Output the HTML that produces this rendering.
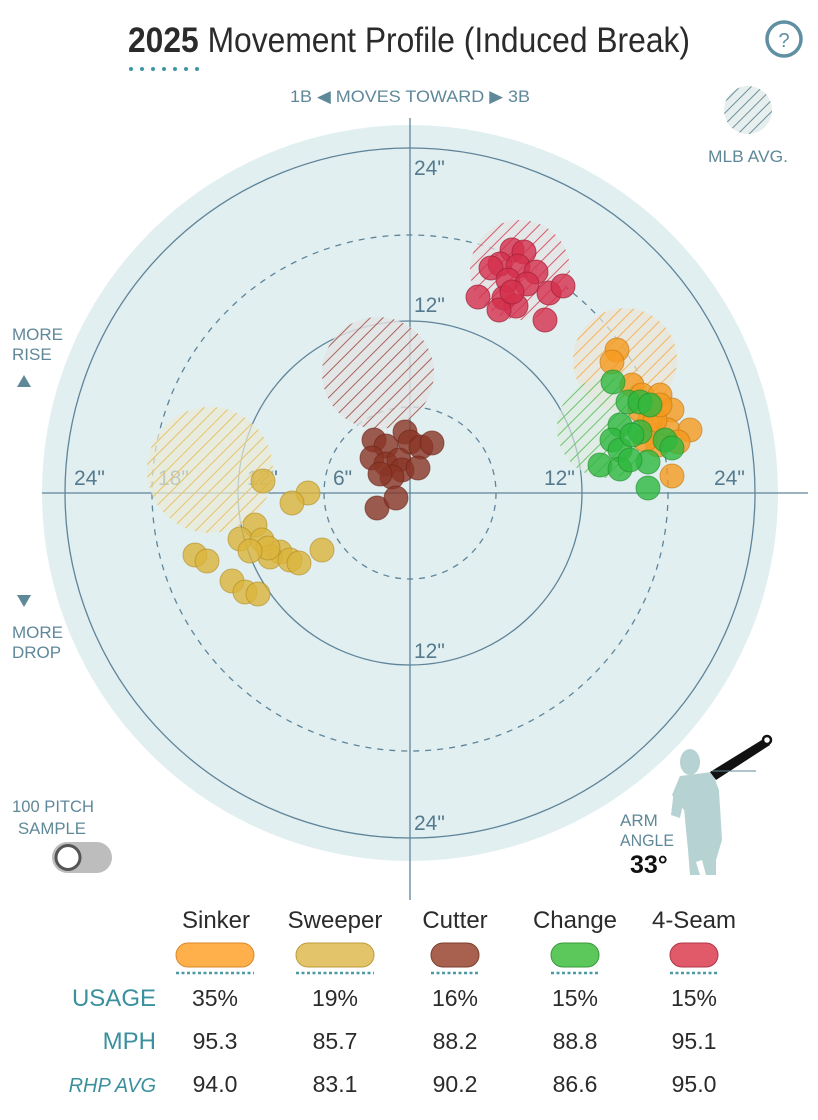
<!DOCTYPE html>
<html><head><meta charset="utf-8"><style>
body{margin:0;background:#fff;}
svg{display:block;font-family:"Liberation Sans Narrow","Liberation Sans",sans-serif;}
</style></head><body>
<svg width="818" height="1120" viewBox="0 0 818 1120" xmlns="http://www.w3.org/2000/svg">
<defs>
<pattern id="hr" width="9" height="9" patternUnits="userSpaceOnUse" patternTransform="rotate(45)"><rect width="9" height="9" fill="#e4e4e4" opacity="0.7"/><line x1="0" y1="0" x2="0" y2="9" stroke="#d85a6a" stroke-width="2"/></pattern>
<pattern id="hb" width="9" height="9" patternUnits="userSpaceOnUse" patternTransform="rotate(45)"><rect width="9" height="9" fill="#e4e4e4" opacity="0.8"/><line x1="0" y1="0" x2="0" y2="9" stroke="#a8645a" stroke-width="2"/></pattern>
<pattern id="hy" width="9" height="9" patternUnits="userSpaceOnUse" patternTransform="rotate(45)"><rect width="9" height="9" fill="#ebebd8" opacity="0.7"/><line x1="0" y1="0" x2="0" y2="9" stroke="#e6c36a" stroke-width="2"/></pattern>
<pattern id="ho" width="9" height="9" patternUnits="userSpaceOnUse" patternTransform="rotate(45)"><rect width="9" height="9" fill="#ebe6d8" opacity="0.7"/><line x1="0" y1="0" x2="0" y2="9" stroke="#f5b45a" stroke-width="2"/></pattern>
<pattern id="hg" width="9" height="9" patternUnits="userSpaceOnUse" patternTransform="rotate(45)"><rect width="9" height="9" fill="#dfeadf" opacity="0.6"/><line x1="0" y1="0" x2="0" y2="9" stroke="#6cc66c" stroke-width="2"/></pattern>
<pattern id="hm" width="8" height="8" patternUnits="userSpaceOnUse" patternTransform="rotate(45)"><rect width="8" height="8" fill="#e6eeee"/><line x1="0" y1="0" x2="0" y2="8" stroke="#6d909a" stroke-width="2"/></pattern>
</defs>
<!-- title -->
<text x="128" y="52" font-size="35" fill="#2b2b2b" textLength="562" lengthAdjust="spacingAndGlyphs"><tspan font-weight="bold">2025</tspan> Movement Profile (Induced Break)</text>
<g fill="#3d96a3"><circle cx="131" cy="69" r="2"/><circle cx="142" cy="69" r="2"/><circle cx="153" cy="69" r="2"/><circle cx="164" cy="69" r="2"/><circle cx="175" cy="69" r="2"/><circle cx="186" cy="69" r="2"/><circle cx="197" cy="69" r="2"/></g>
<circle cx="784" cy="39" r="17" fill="none" stroke="#5f8fa3" stroke-width="3.5"/>
<text x="784" y="47" font-size="20" fill="#5f8fa3" text-anchor="middle">?</text>
<text x="290" y="102" font-size="17" fill="#5f8899" textLength="240" lengthAdjust="spacingAndGlyphs">1B ◀  MOVES TOWARD  ▶ 3B</text>
<circle cx="748" cy="110" r="24" fill="url(#hm)"/>
<text x="708" y="162" font-size="17" fill="#5f8899" textLength="80" lengthAdjust="spacingAndGlyphs">MLB AVG.</text>
<!-- field -->
<circle cx="410" cy="493" r="368" fill="#e1eff1"/>
<g fill="none" stroke="#5f8499" stroke-width="1.3">
<circle cx="410" cy="493" r="345"/><circle cx="410" cy="493" r="172"/>
<circle cx="410" cy="493" r="258" stroke-dasharray="6,6"/><circle cx="410" cy="493" r="86" stroke-dasharray="6,6"/>
<line x1="410" y1="118" x2="410" y2="900"/><line x1="42" y1="493" x2="808" y2="493"/>
</g>
<g font-size="21" fill="#557a8d">
<text x="414" y="175">24"</text><text x="414" y="312">12"</text><text x="414" y="658">12"</text><text x="414" y="830">24"</text>
<text x="74" y="485">24"</text><text x="158" y="485">18"</text><text x="247" y="485">12"</text><text x="333" y="485">6"</text><text x="544" y="485">12"</text><text x="714" y="485">24"</text>
</g>
<g font-size="17" fill="#5f8899">
<text x="12" y="340">MORE</text><text x="12" y="360">RISE</text>
<text x="12" y="638">MORE</text><text x="12" y="658">DROP</text>
<text x="12" y="812" textLength="82" lengthAdjust="spacingAndGlyphs">100 PITCH</text><text x="18" y="834" textLength="68" lengthAdjust="spacingAndGlyphs">SAMPLE</text>
<text x="620" y="826">ARM</text><text x="620" y="846" textLength="54" lengthAdjust="spacingAndGlyphs">ANGLE</text>
</g>
<polygon points="24,375 17,387 31,387" fill="#5f8899"/>
<polygon points="17,595 31,595 24,607" fill="#5f8899"/>
<rect x="52" y="842" width="60" height="31" rx="15.5" fill="#bdbdbd"/>
<circle cx="68" cy="857.5" r="12" fill="#fff" stroke="#555" stroke-width="3"/>
<text x="630" y="873" font-size="25" font-weight="bold" fill="#111">33°</text>
<!-- pitcher -->
<g fill="#b7d2d2">
<ellipse cx="690" cy="762" rx="10" ry="13"/>
<path d="M680,776 L712,772 L719,790 L720,808 L700,812 L684,810 L672,795 Z"/>
<path d="M674,790 L671,815 L680,818 L684,800 Z"/>
<path d="M684,808 L720,806 L722,840 L716,860 L716,875 L706,875 L702,860 L696,862 L700,875 L690,875 L688,850 L686,830 Z"/>
</g>
<polygon points="710,772 765,738 770,745 716,780" fill="#111"/>
<circle cx="767" cy="740" r="4" fill="#fff" stroke="#111" stroke-width="2.5"/>
<line x1="712" y1="771" x2="756" y2="771" stroke="#5f8899" stroke-width="1"/>
<!-- MLB avg blobs -->
<circle cx="520" cy="270" r="50" fill="url(#hr)"/>
<circle cx="378" cy="373" r="56" fill="url(#hb)"/>
<circle cx="210" cy="470" r="63" fill="url(#hy)"/>
<circle cx="625" cy="360" r="52" fill="url(#ho)"/>
<circle cx="607" cy="428" r="50" fill="url(#hg)"/>
<!-- dots -->
<g fill="#d4304c" fill-opacity="0.8" stroke="#a02036" stroke-opacity="0.7">
<circle cx="512" cy="250" r="12"/><circle cx="524" cy="252" r="12"/><circle cx="500" cy="264" r="12"/><circle cx="518" cy="266" r="12"/><circle cx="536" cy="272" r="12"/><circle cx="491" cy="268" r="12"/><circle cx="508" cy="280" r="12"/><circle cx="527" cy="284" r="12"/><circle cx="549" cy="293" r="12"/><circle cx="563" cy="286" r="12"/><circle cx="478" cy="297" r="12"/><circle cx="504" cy="298" r="12"/><circle cx="516" cy="306" r="12"/><circle cx="499" cy="310" r="12"/><circle cx="545" cy="320" r="12"/><circle cx="512" cy="292" r="12"/>
</g>
<g fill="#8a3526" fill-opacity="0.8" stroke="#6a2518" stroke-opacity="0.6">
<circle cx="374" cy="440" r="12"/><circle cx="386" cy="446" r="12"/><circle cx="405" cy="432" r="12"/><circle cx="410" cy="442" r="12"/><circle cx="421" cy="447" r="12"/><circle cx="432" cy="443" r="12"/><circle cx="372" cy="458" r="12"/><circle cx="386" cy="464" r="12"/><circle cx="399" cy="460" r="12"/><circle cx="402" cy="470" r="12"/><circle cx="418" cy="468" r="12"/><circle cx="392" cy="477" r="12"/><circle cx="380" cy="474" r="12"/><circle cx="377" cy="508" r="12"/><circle cx="396" cy="498" r="12"/>
</g>
<g fill="#dbb43c" fill-opacity="0.8" stroke="#b08a20" stroke-opacity="0.6">
<circle cx="263" cy="481" r="12"/><circle cx="308" cy="493" r="12"/><circle cx="292" cy="503" r="12"/><circle cx="255" cy="525" r="12"/><circle cx="240" cy="539" r="12"/><circle cx="262" cy="540" r="12"/><circle cx="280" cy="552" r="12"/><circle cx="270" cy="557" r="12"/><circle cx="290" cy="560" r="12"/><circle cx="299" cy="563" r="12"/><circle cx="322" cy="550" r="12"/><circle cx="195" cy="555" r="12"/><circle cx="207" cy="561" r="12"/><circle cx="232" cy="581" r="12"/><circle cx="245" cy="592" r="12"/><circle cx="258" cy="594" r="12"/><circle cx="268" cy="548" r="12"/><circle cx="250" cy="551" r="12"/>
</g>
<g fill="#f59a1e" fill-opacity="0.8" stroke="#c07410" stroke-opacity="0.6">
<circle cx="617" cy="350" r="12"/><circle cx="612" cy="362" r="12"/><circle cx="632" cy="385" r="12"/><circle cx="642" cy="395" r="12"/><circle cx="660" cy="395" r="12"/><circle cx="672" cy="410" r="12"/><circle cx="668" cy="430" r="12"/><circle cx="690" cy="430" r="12"/><circle cx="650" cy="420" r="12"/><circle cx="640" cy="410" r="12"/><circle cx="678" cy="442" r="12"/><circle cx="658" cy="445" r="12"/><circle cx="645" cy="440" r="12"/><circle cx="672" cy="476" r="12"/><circle cx="655" cy="420" r="12"/><circle cx="660" cy="405" r="12"/>
</g>
<g fill="#2eb83e" fill-opacity="0.8" stroke="#1f8a2a" stroke-opacity="0.6">
<circle cx="613" cy="382" r="12"/><circle cx="628" cy="402" r="12"/><circle cx="640" cy="402" r="12"/><circle cx="650" cy="405" r="12"/><circle cx="620" cy="425" r="12"/><circle cx="640" cy="432" r="12"/><circle cx="612" cy="440" r="12"/><circle cx="620" cy="450" r="12"/><circle cx="632" cy="435" r="12"/><circle cx="665" cy="440" r="12"/><circle cx="672" cy="448" r="12"/><circle cx="600" cy="465" r="12"/><circle cx="620" cy="469" r="12"/><circle cx="648" cy="462" r="12"/><circle cx="648" cy="488" r="12"/><circle cx="630" cy="460" r="12"/>
</g>
<!-- table -->
<g font-size="24" fill="#2b2b2b" text-anchor="middle">
<text x="216" y="928">Sinker</text><text x="335" y="928">Sweeper</text><text x="455" y="928">Cutter</text><text x="575" y="928">Change</text><text x="694" y="928">4-Seam</text>
</g>
<rect x="176" y="943" width="78" height="24" rx="12" fill="#ffb04a" stroke="#d9892a"/>
<rect x="296" y="943" width="78" height="24" rx="12" fill="#e4c46a" stroke="#bc9c3c"/>
<rect x="431" y="943" width="48" height="24" rx="12" fill="#a9614f" stroke="#7d3d2e"/>
<rect x="551" y="943" width="48" height="24" rx="12" fill="#5cc85c" stroke="#3a9a3a"/>
<rect x="670" y="943" width="48" height="24" rx="12" fill="#e05a6a" stroke="#b03848"/>
<g stroke="#4a9aa6" stroke-width="2.5" stroke-dasharray="3,2.5">
<line x1="176" y1="973" x2="254" y2="973"/><line x1="296" y1="973" x2="374" y2="973"/><line x1="431" y1="973" x2="479" y2="973"/><line x1="551" y1="973" x2="599" y2="973"/><line x1="670" y1="973" x2="718" y2="973"/>
</g>
<g font-size="24" fill="#3a909c" text-anchor="end">
<text x="156" y="1006">USAGE</text><text x="156" y="1049">MPH</text><text x="156" y="1092" font-size="20" font-style="italic">RHP AVG</text>
</g>
<g font-size="23" fill="#2b2b2b" text-anchor="middle">
<text x="215" y="1006">35%</text><text x="335" y="1006">19%</text><text x="455" y="1006">16%</text><text x="575" y="1006">15%</text><text x="694" y="1006">15%</text>
<text x="215" y="1049">95.3</text><text x="335" y="1049">85.7</text><text x="455" y="1049">88.2</text><text x="575" y="1049">88.8</text><text x="694" y="1049">95.1</text>
<text x="215" y="1092">94.0</text><text x="335" y="1092">83.1</text><text x="455" y="1092">90.2</text><text x="575" y="1092">86.6</text><text x="694" y="1092">95.0</text>
</g>
</svg>
</body></html>
